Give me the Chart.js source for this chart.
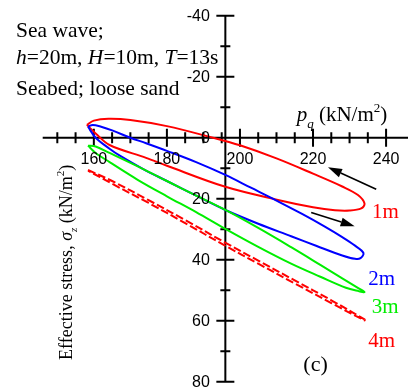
<!DOCTYPE html>
<html>
<head>
<meta charset="utf-8">
<script src="https://cdn.jsdelivr.net/npm/chart.js@4"></script>
<style>
  html, body { margin: 0; background: #fff; }
  #wrap { width: 411px; height: 390px; }
</style>
</head>
<body>
<div id="wrap"><canvas id="chart" width="411" height="390"></canvas></div>
<script>
// loops, p_q (x) vs effective stress (y), going round each loop
const loop1mX = [158.1, 160, 164, 170, 180, 192.6, 200, 210, 220, 228, 232.3, 234.1, 233.2, 230, 226, 220, 210.4, 196, 180, 174.3, 164.3, 160.5, 158.1];
const loop1mY = [-4.2, -5.6, -6.2, -5.8, -3.8, 0, 2.5, 6.8, 11.8, 16, 18.8, 21.6, 23.2, 23.9, 23.8, 22.8, 20.4, 16.1, 9.2, 6.6, 2.4, -1.4, -4.2];

const loop2mX = [158.4, 159.7, 162, 165.2, 170, 174.3, 180, 188, 196, 203, 210, 217, 223, 228, 231.5, 233.8, 233, 231.5, 228, 221, 214, 205, 196, 188, 180, 173.4, 167, 164.3, 160.5, 158.4];
const loop2mY = [-3.6, -4.2, -3.6, -2.3, 0, 1.8, 4.3, 8, 12.2, 16.4, 20.6, 25.0, 29.0, 32.6, 35.4, 37.8, 39.5, 39.7, 38.6, 35.5, 32.3, 28.2, 23.7, 19, 14.2, 10.2, 5.8, 3.6, 0, -3.6];

const loop3mX = [158.4, 160.5, 164.3, 173.4, 180, 188, 196, 205, 214, 222, 228, 232.5, 234.1, 232.5, 229, 222, 214, 205, 196, 188, 180, 172, 164.3, 160.5, 158.4];
const loop3mY = [2.6, 2.9, 5.0, 10.2, 14.2, 19, 23.7, 29.6, 35.9, 41.7, 46.1, 49.4, 50.6, 50.3, 49.2, 45.6, 41.3, 35.8, 29.9, 24.4, 19.2, 13.8, 8, 5, 2.6];

const loop4mX = [158.4, 165, 175, 185, 195.8, 205, 215, 225, 234.1, 234.1, 225, 215, 205, 195.8, 185, 175, 165, 158.4];
const loop4mY = [10.6, 14.2, 20.5, 27, 34.3, 40.3, 46.8, 53.3, 59.6, 59.9, 54.2, 47.8, 41.3, 35.3, 28, 21.4, 15.1, 10.8];

// axis ticks
const xMinorTicks = [150, 155, 160, 165, 170, 175, 180, 185, 190, 195, 200, 205, 210, 215, 220, 225, 230, 235, 240];
const xLabels = [160, 180, 200, 220, 240];
const yMinorTicks = [-30, -10, 10, 30, 50, 70];
const yLabels = [-40, -20, 0, 20, 40, 60, 80];
const yAxisAt = 196;

// arrows [tailX, tailY, headX, headY]
const arrowUpper = [237.3, 16.9, 224.1, 9.7];
const arrowLower = [219.5, 24.5, 231.4, 29.0];

function pts(xs, ys) {
  return xs.map((x, i) => ({ x: x, y: ys[i] }));
}

function loop(label, xs, ys, color, dash) {
  return {
    label: label,
    data: pts(xs, ys),
    showLine: true,
    borderColor: color,
    borderWidth: 2,
    borderDash: dash || [],
    pointRadius: 0,
    tension: 0.35,
    fill: false,
  };
}

const serif = '"Liberation Serif", "Times New Roman", serif';
const sans = '"Liberation Sans", Arial, sans-serif';

// draws text pieces one after another: [text, size, italic, dy]
function richText(ctx, x, y, parts, color) {
  ctx.fillStyle = color || "#000";
  ctx.textAlign = "left";
  ctx.textBaseline = "alphabetic";
  let cx = x;
  parts.forEach(([t, size, italic, dy]) => {
    ctx.font = (italic ? "italic " : "") + size + "px " + serif;
    ctx.fillText(t, cx, y + (dy || 0));
    cx += ctx.measureText(t).width;
  });
}

function arrow(ctx, xs, ys, a) {
  const x1 = xs.getPixelForValue(a[0]), y1 = ys.getPixelForValue(a[1]);
  const x2 = xs.getPixelForValue(a[2]), y2 = ys.getPixelForValue(a[3]);
  const ang = Math.atan2(y2 - y1, x2 - x1);
  const len = 14, half = 4.5;
  const bx = x2 - len * Math.cos(ang), by = y2 - len * Math.sin(ang);
  ctx.strokeStyle = "#000";
  ctx.lineWidth = 1.6;
  ctx.beginPath();
  ctx.moveTo(x1, y1);
  ctx.lineTo(bx, by);
  ctx.stroke();
  ctx.fillStyle = "#000";
  ctx.beginPath();
  ctx.moveTo(x2, y2);
  ctx.lineTo(bx + half * Math.sin(ang), by - half * Math.cos(ang));
  ctx.lineTo(bx - half * Math.sin(ang), by + half * Math.cos(ang));
  ctx.closePath();
  ctx.fill();
}

const axesPlugin = {
  id: "crossAxes",
  beforeDatasetsDraw(chart) {
    const { ctx, chartArea, scales } = chart;
    const xs = scales.x, ys = scales.y;
    const y0 = ys.getPixelForValue(0);
    const x0 = xs.getPixelForValue(yAxisAt);
    ctx.save();
    ctx.strokeStyle = "#000";
    ctx.lineWidth = 2;
    ctx.beginPath();
    ctx.moveTo(chartArea.left, y0);
    ctx.lineTo(chartArea.right, y0);
    ctx.moveTo(x0, ys.getPixelForValue(-40));
    ctx.lineTo(x0, ys.getPixelForValue(80));
    xMinorTicks.forEach((v) => {
      const px = xs.getPixelForValue(v);
      const l = xLabels.includes(v) ? 9 : 5.5;
      ctx.moveTo(px, y0 - l);
      ctx.lineTo(px, y0 + l);
    });
    yLabels.concat(yMinorTicks).forEach((v) => {
      const py = ys.getPixelForValue(v);
      const l = yLabels.includes(v) ? 9 : 5;
      ctx.moveTo(x0 - l, py);
      ctx.lineTo(x0 + l, py);
    });
    ctx.stroke();
    ctx.restore();
  },
  afterDatasetsDraw(chart) {
    const { ctx, scales } = chart;
    const xs = scales.x, ys = scales.y;
    const y0 = ys.getPixelForValue(0);
    const x0 = xs.getPixelForValue(yAxisAt);
    ctx.save();
    ctx.fillStyle = "#000";
    ctx.font = "16px " + sans;
    ctx.textAlign = "center";
    ctx.textBaseline = "middle";
    xLabels.forEach((v) => ctx.fillText(String(v), xs.getPixelForValue(v), y0 + 22));
    ctx.textAlign = "right";
    yLabels.forEach((v) => ctx.fillText(String(v), x0 - 15.5, ys.getPixelForValue(v) + 0.5));

    arrow(ctx, xs, ys, arrowUpper);
    arrow(ctx, xs, ys, arrowLower);

    // notes at top left
    richText(ctx, 16, 36.7, [["Sea wave;", 21.5]]);
    richText(ctx, 16, 64, [["h", 21.5, true], ["=20m, ", 21.5], ["H", 21.5, true], ["=10m, ", 21.5], ["T", 21.5, true], ["=13s", 21.5]]);
    richText(ctx, 16, 95, [["Seabed; loose sand", 21.5]]);

    // axis titles
    richText(ctx, 296.7, 120.7, [["p", 21, true], ["q", 13, true, 7], [" (kN/m", 21], ["2", 13, false, -9], [")", 21]]);
    ctx.save();
    ctx.translate(71.5, 360);
    ctx.rotate(-Math.PI / 2);
    richText(ctx, 0, 0, [["Effective stress, ", 18], ["\u03c3", 18, true], ["z", 11, true, 5], [" (kN/m", 18], ["2", 11, false, -8], [")", 18]]);
    ctx.restore();

    // loop names
    richText(ctx, 372, 218, [["1m", 21]], "#ff0000");
    richText(ctx, 368.3, 285, [["2m", 21]], "#0000ff");
    richText(ctx, 371.7, 313, [["3m", 21]], "#00ee00");
    richText(ctx, 368.3, 346.5, [["4m", 21]], "#ff0000");
    richText(ctx, 303.3, 370.5, [["(c)", 22]]);
    ctx.restore();
  },
};

const ctx = document.getElementById("chart").getContext("2d");
new Chart(ctx, {
  type: "scatter",
  data: {
    datasets: [
      loop("4m", loop4mX, loop4mY, "#ff0000", [8, 3]),
      loop("3m", loop3mX, loop3mY, "#00ee00"),
      loop("2m", loop2mX, loop2mY, "#0000ff"),
      loop("1m", loop1mX, loop1mY, "#ff0000"),
    ],
  },
  options: {
    responsive: false,
    animation: false,
    layout: { padding: { left: 42.7, top: 15.7, right: 3, bottom: 8.3 } },
    plugins: { legend: { display: false }, tooltip: { enabled: false } },
    scales: {
      x: { type: "linear", min: 146, max: 246, display: false },
      y: { type: "linear", min: -40, max: 80, reverse: true, display: false },
    },
  },
  plugins: [axesPlugin],
});
</script>
</body>
</html>
